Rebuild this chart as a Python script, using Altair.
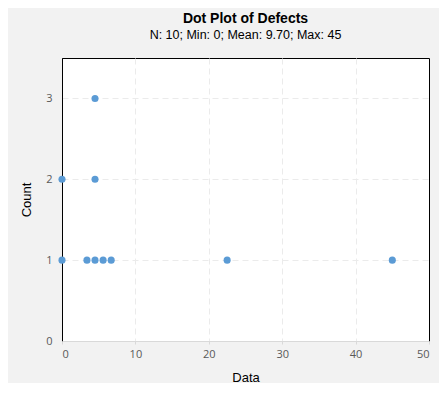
import altair as alt
import pandas as pd

values = [0, 0, 3.4, 4.5, 4.5, 4.5, 5.6, 6.7, 22.5, 45]
counts = [1, 2, 1, 1, 2, 3, 1, 1, 1, 1]
x_ticks = [0, 10, 20, 30, 40, 50]
y_ticks = [0, 1, 2, 3]

df = pd.DataFrame({"Data": values, "Count": counts})

x_grid_op = {"condition": {"test": "datum.value == 0 || datum.value == 50", "value": 0}, "value": 1}
y_grid_op = {"condition": {"test": "datum.value == 0", "value": 0}, "value": 1}

points = alt.Chart(df).mark_circle(size=50, color="#5b9bd5", opacity=1).encode(
    x=alt.X("Data:Q", scale=alt.Scale(domain=[0, 50], nice=False),
            axis=alt.Axis(values=x_ticks, title="Data", grid=True, gridDash=[6, 4],
                          gridColor="#ebebeb", gridOpacity=x_grid_op,
                          domainColor="#d9d9d9", tickColor="#d9d9d9",
                          tickSize=3, labelPadding=4, titlePadding=12, zindex=1)),
    y=alt.Y("Count:Q", scale=alt.Scale(domain=[0, 3.5], nice=False),
            axis=alt.Axis(values=y_ticks, title="Count", grid=True, gridDash=[6, 4],
                          gridColor="#ebebeb", gridOpacity=y_grid_op,
                          domainColor="#000000", ticks=False,
                          labelPadding=10, titlePadding=12)),
)

chart = points.properties(
    width=367,
    height=283,
    autosize=alt.AutoSizeParams(type="none"),
    padding={"left": 54, "top": 50, "right": 10, "bottom": 42},
    background="#f2f2f2",
    title=alt.TitleParams(
        text="Dot Plot of Defects",
        subtitle="N: 10; Min: 0; Mean: 9.70; Max: 45",
        font="Liberation Sans", fontSize=14, fontWeight="bold", color="#000000",
        subtitleFont="Liberation Sans", subtitleFontSize=12.5, subtitleColor="#000000",
        subtitlePadding=3, anchor="middle", offset=17,
    ),
).configure_view(
    fill="#ffffff", stroke="#000000", strokeWidth=1,
).configure_axis(
    labelFont="Open Sans", labelFontSize=11, labelColor="#595959",
    titleFont="Liberation Sans", titleFontSize=13, titleFontWeight="normal", titleColor="#000000",
)

chart.save("out.html", embed_options={"renderer": "svg", "actions": False})
